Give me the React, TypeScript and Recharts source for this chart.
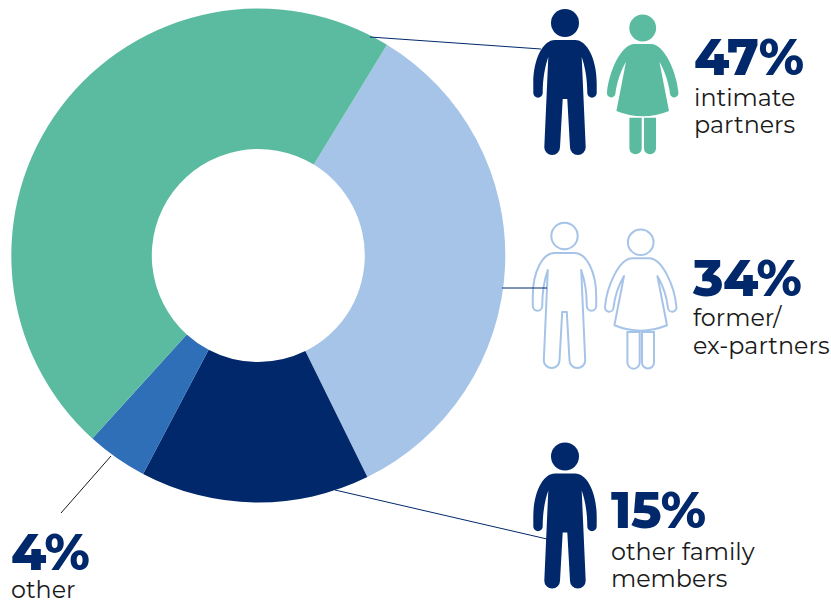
import { PieChart, Pie, Cell } from "recharts";

const groups = ["former/ex-partners", "other family members", "other", "intimate partners"];
const shares = [34, 15, 4, 47];
const sliceColors = ["#a6c4e8", "#00286a", "#2f6fb7", "#5bbba0"];

const NAVY = "#00286a";
const TEAL = "#5bbba0";
const PALE = "#a6c4e8";
const INK = "#1a1a1a";
const HEAD_FONT = "Montserrat, Inter, 'Open Sans', sans-serif";
const BODY_FONT = "Montserrat, Inter, 'Noto Sans', sans-serif";

const pieData = groups.map((name, i) => ({ name, value: shares[i] }));

const MAN_BODY =
  "M-10 31 L10 31 C22 31 31.7 50 31.7 74 L31.7 84 A4.7 4.7 0 0 1 22.3 84 C22.3 68 19.5 56 16.7 48 L20.7 138.2 A7.8 7.8 0 0 1 5 138.2 L2.3 90 L-2.3 90 L-5 138.2 A7.8 7.8 0 0 1 -20.7 138.2 L-16.7 48 C-19.5 56 -22.3 68 -22.3 84 A4.7 4.7 0 0 1 -31.7 84 L-31.7 74 C-31.7 50 -22 31 -10 31 Z";
const WOMAN_BODY =
  "M-8 29.3 L8 29.3 C22 29.3 34 58 35.7 78 A4.2 4.2 0 0 1 27.3 79 C26 68 22 56 16.7 47 L26.3 96.3 Q0 107 -26.3 96.3 L-16.7 47 C-22 56 -26 68 -27.3 79 A4.2 4.2 0 0 1 -35.7 78 C-34 58 -22 29.3 -8 29.3 Z";
const WOMAN_LEG_L = "M-13.3 103 L-1 103 L-1 133.5 A6.1 6.1 0 0 1 -13.3 133.5 Z";
const WOMAN_LEG_R = "M1.3 103 L13.3 103 L13.3 133.5 A6 6 0 0 1 1.3 133.5 Z";

type FigureProps = { x: number; y: number; fill: string; stroke?: string };

// Pictogram of a man: x is the centre line, y the top of the head
const Man = ({ x, y, fill, stroke }: FigureProps) => (
  <g transform={`translate(${x} ${y})`} fill={fill} stroke={stroke} strokeWidth={stroke ? 2 : 0}>
    <circle cx={0} cy={14} r={stroke ? 13.2 : 14} />
    <path d={MAN_BODY} strokeLinejoin="round" />
  </g>
);

const Woman = ({ x, y, fill, stroke }: FigureProps) => (
  <g transform={`translate(${x} ${y})`} fill={fill} stroke={stroke} strokeWidth={stroke ? 2 : 0}>
    <circle cx={0} cy={13.3} r={stroke ? 12.8 : 13.4} />
    <path d={WOMAN_LEG_L} />
    <path d={WOMAN_LEG_R} />
    <path d={WOMAN_BODY} strokeLinejoin="round" />
  </g>
);

type CalloutProps = { x: number; y: number; pct: string; lines: string[]; lineYs: number[] };

const Callout = ({ x, y, pct, lines, lineYs }: CalloutProps) => (
  <g>
    <text x={x} y={y} fill={NAVY} fontFamily={HEAD_FONT} fontWeight={800} fontSize={50.5} letterSpacing={-0.4}>
      {pct}
    </text>
    {lines.map((line, i) => (
      <text key={line} x={x} y={lineYs[i]} fill={INK} fontFamily={BODY_FONT} fontWeight={400} fontSize={23.8}>
        {line}
      </text>
    ))}
  </g>
);

export default function App() {
  return (
    <div style={{ position: "absolute", left: 0, top: 0, width: 831, height: 602, background: "#fff", overflow: "hidden" }}>
      <PieChart width={831} height={602} margin={{ top: 0, right: 0, bottom: 0, left: 0 }}>
        <Pie
          data={pieData}
          dataKey="value"
          nameKey="name"
          cx={258.3}
          cy={255.5}
          innerRadius={106.5}
          outerRadius={247}
          startAngle={58.6}
          endAngle={-301.4}
          stroke="none"
          isAnimationActive={false}
        >
          {pieData.map((d, i) => (
            <Cell key={d.name} fill={sliceColors[i]} />
          ))}
        </Pie>
      </PieChart>
      <svg width={831} height={602} style={{ position: "absolute", left: 0, top: 0 }}>
        {/* leader lines */}
        <line x1={370} y1={37} x2={541} y2={49} stroke={NAVY} strokeWidth={1} />
        <line x1={335} y1={490} x2={547} y2={539} stroke={NAVY} strokeWidth={1} />
        <line x1={111} y1={456} x2={61} y2={513} stroke={INK} strokeWidth={1} />

        <Man x={565} y={9} fill={NAVY} />
        <Woman x={642.7} y={14.7} fill={TEAL} />

        <Man x={564.5} y={222} fill="#fff" stroke={PALE} />
        <Woman x={640.7} y={229} fill="#fff" stroke={PALE} />
        <line x1={502} y1={288} x2={547} y2={288} stroke={NAVY} strokeWidth={1} />

        <Man x={565} y={442.5} fill={NAVY} />

        <Callout x={694} y={75} pct="47%" lines={["intimate", "partners"]} lineYs={[106, 133]} />
        <Callout x={693} y={296} pct="34%" lines={["former/", "ex-partners"]} lineYs={[326, 354]} />
        <Callout x={611} y={528} pct="15%" lines={["other family", "members"]} lineYs={[560, 587]} />
        <Callout x={11} y={570} pct="4%" lines={["other"]} lineYs={[598]} />
      </svg>
    </div>
  );
}
